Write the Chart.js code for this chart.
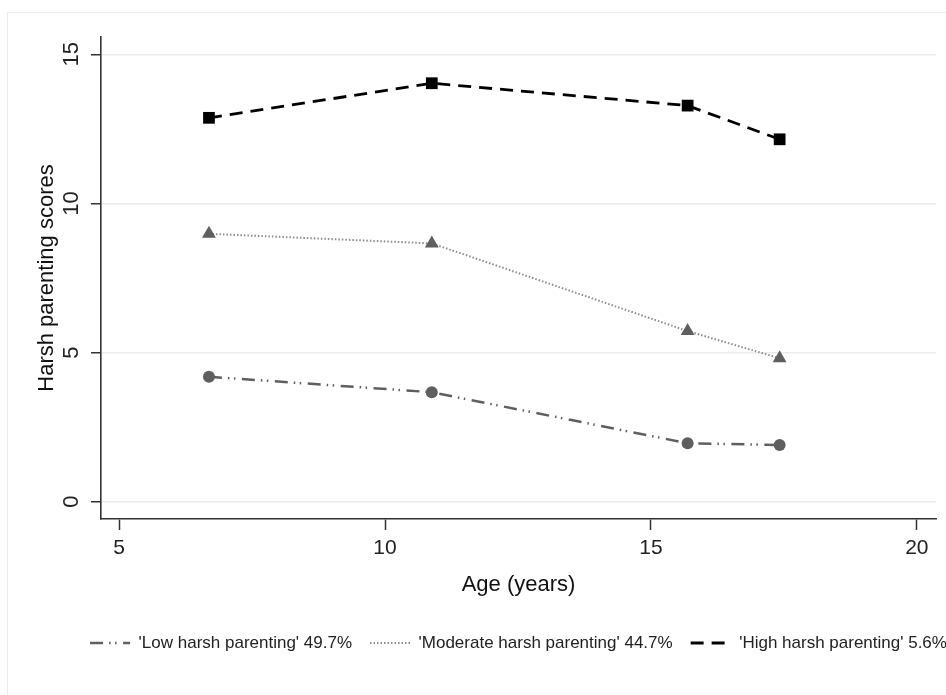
<!DOCTYPE html>
<html><head><meta charset="utf-8">
<script src="https://cdn.jsdelivr.net/npm/chart.js@4"></script>
<style>
html,body{margin:0;padding:0;background:#fff;}
#wrap{position:relative;width:946px;height:695px;overflow:hidden;}
#frame{position:absolute;left:7px;top:12px;width:1000px;height:1000px;border:1px solid #ececec;box-sizing:border-box;}
canvas{position:absolute;left:0;top:0;}
</style></head><body>
<div id="wrap"><div id="frame"></div><canvas id="c" width="946" height="695"></canvas></div>
<script>
const ages = [6.69, 10.88, 15.69, 17.42];
const lowScores = [4.19, 3.67, 1.96, 1.90];
const moderateScores = [8.98, 8.66, 5.72, 4.81];
const highScores = [12.87, 14.03, 13.28, 12.15];
const seriesLabels = ["'Low harsh parenting' 49.7%", "'Moderate harsh parenting' 44.7%", "'High harsh parenting' 5.6%"];
const xTicks = [5, 10, 15, 20];
const yTicks = [0, 5, 10, 15];
const xTitle = 'Age (years)';
const yTitle = 'Harsh parenting scores';

const toPoints = (ys) => ages.map((x, i) => ({x: x, y: ys[i]}));

Chart.defaults.font.family = '"Liberation Sans", Arial, Helvetica, sans-serif';

new Chart(document.getElementById('c'), {
  type: 'line',
  data: {
    datasets: [
      {label: seriesLabels[0], data: toPoints(lowScores), borderColor: '#5f5f5f', backgroundColor: '#5f5f5f',
       borderWidth: 2.5, borderDash: [13, 6, 1.5, 4.5, 1.5, 6.5], pointStyle: 'circle', pointRadius: 6,
       pointBackgroundColor: '#5f5f5f', pointBorderWidth: 0, tension: 0},
      {label: seriesLabels[1], data: toPoints(moderateScores), borderColor: '#8c8c8c', backgroundColor: '#8c8c8c',
       borderWidth: 2, borderDash: [1.5, 2], pointStyle: 'triangle', pointRadius: 8,
       pointBackgroundColor: '#5f5f5f', pointBorderWidth: 0, tension: 0},
      {label: seriesLabels[2], data: toPoints(highScores), borderColor: '#000', backgroundColor: '#000',
       borderWidth: 2.8, borderDash: [13, 8], pointStyle: 'rect', pointRadius: 8.3,
       pointBackgroundColor: '#000', pointBorderWidth: 0, tension: 0}
    ]
  },
  options: {
    responsive: false,
    animation: false,
    layout: {padding: {left: 0, top: 37, right: 10, bottom: 33.5}},
    scales: {
      x: {
        type: 'linear', min: 4.66, max: 20.36,
        afterBuildTicks: s => { s.ticks = xTicks.map(v => ({value: v})); },
        afterFit: s => { s.height = 97.5; },
        grid: {drawOnChartArea: false, tickLength: 11, tickColor: '#333', tickWidth: 1.5},
        border: {color: '#333', width: 1.6},
        ticks: {font: {size: 21}, color: '#222', padding: 5.4, maxRotation: 0},
        title: {display: true, text: xTitle, font: {size: 22}, color: '#111', padding: {top: 0, bottom: 18.3}}
      },
      y: {
        type: 'linear', min: -0.58, max: 15.58,
        afterBuildTicks: s => { s.ticks = yTicks.map(v => ({value: v})); },
        afterFit: s => { s.width = 101; },
        grid: {color: '#ebebeb', lineWidth: 1.5, tickLength: 10, tickColor: '#333', tickWidth: 1.5},
        border: {color: '#333', width: 1.6},
        ticks: {font: {size: 22}, color: '#222', padding: 7.3, minRotation: 90, maxRotation: 90, crossAlign: 'center'},
        title: {display: true, text: yTitle, font: {size: 22}, color: '#111', padding: {top: 34.2, bottom: 0}}
      }
    },
    plugins: {
      legend: {
        position: 'bottom',
        labels: {
          usePointStyle: true, pointStyleWidth: 40, boxWidth: 40, padding: 18,
          font: {size: 17}, color: '#222',
          generateLabels: (chart) => Chart.defaults.plugins.legend.labels.generateLabels(chart)
            .map(it => {
              const ds = chart.data.datasets[it.datasetIndex];
              return Object.assign({}, it, {
                pointStyle: 'line', fillStyle: 'rgba(0,0,0,0)',
                strokeStyle: ds.borderColor, lineWidth: ds.borderWidth, lineDash: ds.borderDash
              });
            })
        }
      },
      tooltip: {enabled: false}
    }
  },
  plugins: [{
    id: 'centerLegend',
    afterLayout(chart) {
      const lg = chart.legend, ca = chart.chartArea;
      const shift = (ca.left + ca.right) / 2 - (lg.left + lg.right) / 2;
      lg.left += shift; lg.right += shift;
    }
  }]
});
</script>
</body></html>
